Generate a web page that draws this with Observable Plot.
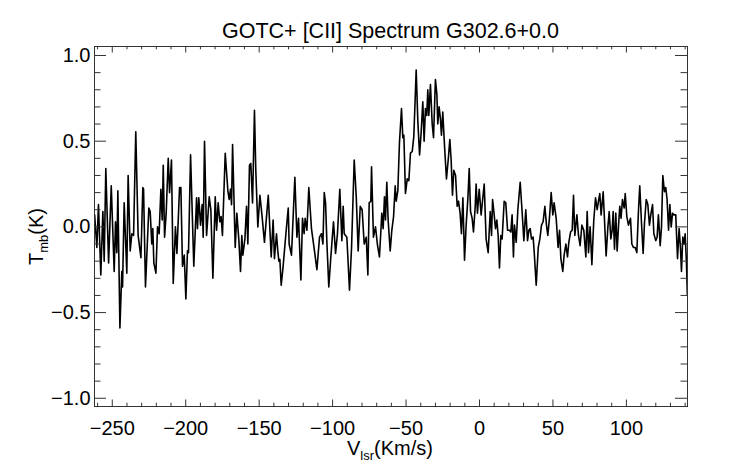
<!DOCTYPE html>
<html><head><meta charset="utf-8">
<script src="https://cdn.jsdelivr.net/npm/d3@7"></script>
<script src="https://cdn.jsdelivr.net/npm/@observablehq/plot@0.6"></script>
<style>body{margin:0;background:#fff} #chart{width:742px;height:464px}</style>
</head><body><div id="chart"></div>
<script>
const title = "GOTC+ [CII] Spectrum G302.6+0.0";
const xLabelMain = "V", xLabelSub = "lsr", xLabelUnit = "(Km/s)";
const yLabelMain = "T", yLabelSub = "mb", yLabelUnit = "(K)";

const vel = [
-262.0,-260.5,-259.4,-257.8,-256.4,-255.5,-254.4,-252.5,-250.7,-248.7,-247.8,-246.9,-246.2,-244.8,-243.5,-243.0,-241.9,-240.1,-239.2,-237.8,
-236.7,-235.5,-234.0,-232.4,-230.5,-229.2,-228.7,-227.4,-225.1,-224.2,-223.1,-222.4,-221.7,-220.3,-219.2,-218.1,-216.9,-216.0,-215.3,-214.4,
-213.3,-211.9,-211.0,-209.7,-208.5,-207.0,-206.0,-204.2,-203.3,-202.2,-201.0,-199.9,-198.8,-198.1,-196.7,
-194.5,-192.6,-192.0,-191.1,-189.9,-188.8,-188.1,-187.2,-185.8,-184.0,-182.9,-181.5,-179.9,-179.0,-177.9,-176.8,-175.9,-175.0,-173.1,-171.3,
-170.4,-169.5,-168.8,-168.1,-166.3,-165.2,-163.8,-162.7,-161.8,-161.1,-159.7,-158.6,-157.7,-156.6,-155.7,-154.5,-153.2,-152.3,-150.9,-149.5,
-148.0,-146.4,-143.8,-141.8,-140.5,-139.6,-138.2,-137.3,-136.6,-135.9,-135.0,-133.9,-131.8,-130.2,
-129.6,-128.0,-125.7,-124.3,-123.2,-121.6,-120.5,-119.4,-118.7,-117.5,-116.2,-114.4,-112.5,-110.7,-108.9,-107.6,-106.6,-105.7,-104.8,-103.9,
-102.6,-101.2,-99.4,-98.0,-96.7,-95.1,-93.7,-92.8,-92.1,-90.3,-88.5,-87.1,-85.3,-83.9,-82.6,-81.2,-79.9,-78.5,-77.1,-76.0,
-75.1,-74.0,-73.5,-72.2,-70.8,-69.4,-68.1,-66.5,-65.6,
-64.7,-64.0,-63.1,-62.2,-60.8,-59.7,-58.5,-57.4,-56.7,-55.6,-54.5,-53.1,-52.2,-51.5,-50.4,-49.2,-48.1,-47.0,-45.8,-44.7,
-43.1,-42.0,-40.8,-39.7,-38.6,-37.7,-36.8,-35.9,-35.2,-34.5,-33.4,-32.2,-31.3,-30.0,-29.0,-28.4,-27.5,-26.6,-25.9,-25.0,
-23.8,-22.5,-21.3,-20.2,-19.3,-18.4,-17.5,-16.3,-15.2,-14.3,-13.2,-12.3,-11.3,-10.2,-9.1,-7.9,-7.0,-6.1,-5.0,-4.1,
-2.9,-2.3,-1.4,-0.2,1.1,
3.2,4.5,5.9,7.3,8.2,8.9,10.0,10.9,11.8,12.7,13.6,14.5,15.4,16.8,17.9,19.1,20.4,21.3,22.2,23.1,
23.8,25.0,26.1,27.7,29.0,30.2,31.5,32.7,33.6,34.5,35.4,36.5,37.2,38.6,40.0,41.1,42.2,43.3,44.5,45.6,
46.5,47.6,48.8,49.9,50.8,52.2,53.5,54.5,55.4,56.7,57.6,58.8,59.9,60.8,62.0,63.1,64.0,64.9,66.3,67.4,
68.5,69.7,71.0,72.4,73.3,74.2,75.3,76.5,77.8,79.0,80.1,81.0,81.9,82.8,84.2,85.1,86.2,87.4,88.3,89.4,
90.3,91.0,91.9,92.8,93.7,94.6,95.5,96.4,97.3,98.5,99.2,100.3,101.4,102.8,103.7,104.8,106.0,107.1,108.2,109.1,
110.3,111.4,112.3,113.5,114.6,115.7,116.6,117.8,118.7,120.0,120.9,121.8,123.0,123.9,124.8,125.9,126.8,127.7,128.7,129.6,
130.5,131.4,132.5,133.6,134.8,135.9,136.8,137.5,138.4,139.3,140.0,140.9,141.5
];
const tmb = [
0.07,-0.12,0.13,-0.28,0.09,-0.20,0.34,-0.21,0.24,-0.26,0.03,-0.15,0.21,-0.59,-0.26,-0.35,0.14,-0.27,0.30,-0.14,
-0.04,-0.05,0.555,-0.05,-0.18,0.23,0.22,-0.35,0.11,0.09,-0.10,-0.01,-0.21,-0.27,0.0,-0.04,0.22,0.04,0.36,-0.06,
0.08,0.40,0.20,0.39,-0.33,0.0,-0.155,0.23,0.23,-0.23,-0.165,-0.42,-0.14,-0.15,0.42,
-0.23,0.17,-0.01,0.17,0.01,0.13,-0.06,0.50,-0.05,0.175,0.10,-0.30,0.175,-0.02,0.14,0.03,0.06,-0.05,0.43,0.21,
0.16,0.22,0.13,0.48,-0.12,0.08,-0.08,-0.26,-0.05,-0.165,-0.07,0.12,-0.10,0.36,0.37,0.14,0.68,0.33,0.0,0.185,
0.06,-0.09,0.185,-0.175,0.04,-0.185,-0.04,-0.14,-0.20,-0.19,-0.34,-0.25,-0.04,0.11,
-0.10,-0.165,0.29,-0.06,0.05,-0.31,0.05,-0.04,0.05,-0.02,0.23,-0.01,-0.13,-0.25,-0.06,-0.04,-0.10,0.20,0.14,-0.09,
-0.35,-0.175,0.03,-0.155,-0.04,0.22,-0.08,0.12,-0.04,-0.06,-0.37,-0.12,0.39,0.175,-0.14,0.12,0.10,-0.10,-0.06,-0.28,
0.14,0.15,0.35,-0.06,0.0,-0.11,-0.175,0.08,-0.01,
0.175,0.04,0.26,0.04,-0.14,-0.02,0.06,0.24,0.15,0.21,0.49,0.69,0.52,0.535,0.195,0.28,0.27,0.43,0.44,0.53,
0.915,0.62,0.42,0.555,0.73,0.50,0.69,0.65,0.80,0.65,0.83,0.60,0.52,0.86,0.77,0.60,0.70,0.63,0.535,0.67,
0.47,0.28,0.39,0.51,0.39,0.185,0.33,0.30,0.12,0.15,0.08,-0.04,0.17,-0.195,0.01,0.17,0.34,0.09,0.05,-0.03,
0.12,0.25,0.08,0.22,0.07,
0.25,-0.07,-0.15,0.09,-0.05,0.16,0.07,-0.01,0.04,-0.05,-0.24,-0.05,-0.07,0.15,0.14,-0.02,-0.02,-0.03,0.07,-0.175,
0.01,-0.09,0.10,0.26,0.09,-0.08,0.10,-0.08,-0.02,-0.01,-0.07,-0.06,-0.14,-0.34,-0.12,-0.07,0.01,0.03,0.12,0.01,
-0.05,0.05,0.20,0.07,0.14,0.05,-0.12,-0.02,-0.185,-0.26,-0.165,-0.10,-0.175,-0.09,-0.03,-0.02,0.185,-0.05,0.07,-0.05,
-0.11,0.01,-0.02,-0.175,0.09,-0.15,0.0,-0.22,0.04,0.17,0.10,0.15,0.195,0.07,0.205,0.04,-0.17,0.0,0.09,-0.07,
-0.02,0.09,-0.13,0.08,-0.14,0.0,0.12,0.05,0.16,0.11,0.195,0.06,0.01,0.05,-0.10,-0.12,-0.12,-0.15,0.09,0.24,
0.02,-0.155,0.02,0.16,0.13,0.01,0.07,0.13,-0.04,-0.08,-0.06,0.07,-0.11,0.0,0.30,0.205,0.23,0.16,-0.02,0.13,
0.0,0.08,0.07,0.07,-0.185,-0.01,-0.12,-0.26,-0.06,-0.10,-0.04,-0.21,-0.40
];

const xMajor = [-250,-200,-150,-100,-50,0,50,100];
const xMinor = [-260,-240,-230,-220,-210,-190,-180,-170,-160,-140,-130,-120,-110,-90,-80,-70,-60,-40,-30,-20,-10,10,20,30,40,60,70,80,90,110,120,130,140];
const yMajor = [-1,-0.5,0,0.5,1];
const yMinor = [-0.9,-0.8,-0.7,-0.6,-0.4,-0.3,-0.2,-0.1,0.1,0.2,0.3,0.4,0.6,0.7,0.8,0.9];

const data = vel.map((v, i) => ({v, t: tmb[i]}));

const W = 742, H = 464, mL = 94, mR = 55, mT = 46, mB = 58;
const fw = W - mL - mR, fh = H - mT - mB;
const font = "'Liberation Sans', Arial, Helvetica, sans-serif";
const tc = "#333";

const chart = Plot.plot({
  width: W, height: H,
  marginLeft: mL, marginRight: mR, marginTop: mT, marginBottom: mB,
  style: {fontFamily: font, fontSize: "20px", background: "#fff", color: "#000", overflow: "visible"},
  x: {domain: [-262.1, 141.6]},
  y: {domain: [-1.048, 1.0525]},
  marks: [
    Plot.line(data, {x: "v", y: "t", stroke: "#000", strokeWidth: 1.6, clip: true}),
    Plot.tickX(xMajor, {x: d => d, insetTop: fh - 6.5, stroke: tc}),
    Plot.tickX(xMajor, {x: d => d, insetBottom: fh - 6.5, stroke: tc}),
    Plot.tickX(xMinor, {x: d => d, insetTop: fh - 3.3, stroke: tc}),
    Plot.tickX(xMinor, {x: d => d, insetBottom: fh - 3.3, stroke: tc}),
    Plot.tickY(yMajor, {y: d => d, insetRight: fw - 12, stroke: tc}),
    Plot.tickY(yMajor, {y: d => d, insetLeft: fw - 12, stroke: tc}),
    Plot.tickY(yMinor, {y: d => d, insetRight: fw - 6.5, stroke: tc}),
    Plot.tickY(yMinor, {y: d => d, insetLeft: fw - 6.5, stroke: tc}),
    Plot.frame({stroke: tc, strokeWidth: 1}),
    Plot.axisX(xMajor, {tickSize: 0, tickPadding: 14, fontSize: 20, label: null, tickFormat: d3.format("d")}),
    Plot.axisY(yMajor, {tickSize: 0, tickPadding: 4, fontSize: 20, label: null, tickFormat: d3.format(".1f")})
  ]
});
document.getElementById("chart").appendChild(chart);

const svg = d3.select(chart);
svg.append("text")
  .attr("x", mL + fw / 2).attr("y", 38.3)
  .attr("text-anchor", "middle").attr("font-size", 21.5).attr("fill", "#000")
  .text(title);

const xl = svg.append("text")
  .attr("x", 390).attr("y", 455)
  .attr("text-anchor", "middle").attr("font-size", 20).attr("fill", "#000");
xl.append("tspan").text(xLabelMain);
xl.append("tspan").attr("font-size", 13).attr("dy", 5).text(xLabelSub);
xl.append("tspan").attr("dy", -5).text(xLabelUnit);

const yl = svg.append("text")
  .attr("transform", "translate(43.3,236.5) rotate(-90)")
  .attr("text-anchor", "middle").attr("font-size", 20).attr("fill", "#000");
yl.append("tspan").text(yLabelMain);
yl.append("tspan").attr("font-size", 13).attr("dy", 5).text(yLabelSub);
yl.append("tspan").attr("dy", -5).text(yLabelUnit);
</script>
</body></html>
